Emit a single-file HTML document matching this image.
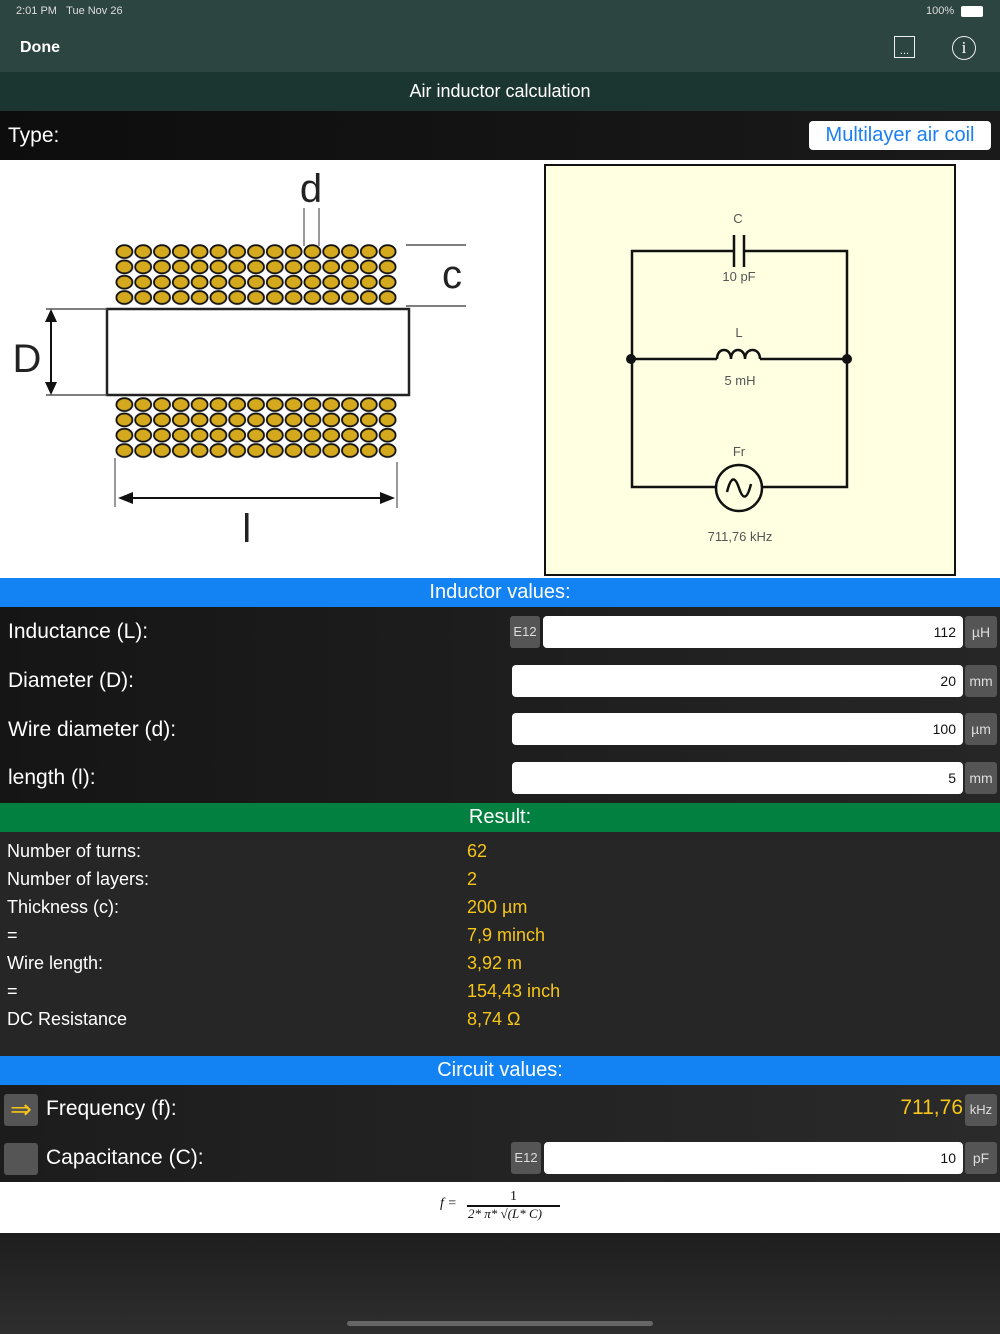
<!DOCTYPE html>
<html><head><meta charset="utf-8"><style>
*{margin:0;padding:0;box-sizing:border-box}
body{width:1000px;height:1334px;background:#262626;font-family:"Liberation Sans",sans-serif;position:relative;overflow:hidden;color:#fff}
.a{position:absolute}
.hdr{position:absolute;left:0;width:1000px;height:29px;text-align:center;font-size:20px;line-height:29px;color:#fff}
.lbl{position:absolute;left:8px;font-size:21px;color:#fff}
.fld{position:absolute;background:#fff;border-radius:4px;height:32px;color:#111;font-size:14px;text-align:right;padding-right:7px;line-height:32px}
.btn{position:absolute;background:#555;border-radius:3px;color:#ddd;font-size:13px;text-align:center;line-height:32px;height:32px}
.r{position:absolute;left:7px;font-size:18px;color:#fff}
.v{position:absolute;left:467px;font-size:18px;color:#f5c518}
</style></head><body>
<div class="a" style="left:0;top:0;width:1000px;height:72px;background:#2d4541"></div>
<div class="a" style="left:16px;top:5px;font-size:11px;color:#ddd">2:01 PM&nbsp;&nbsp;&nbsp;Tue Nov 26</div>
<div class="a" style="left:926px;top:5px;font-size:11px;color:#ddd">100%</div>
<div class="a" style="left:961px;top:6px;width:22px;height:11px;border-radius:2px;background:#fff"></div>
<div class="a" style="left:20px;top:39px;font-size:16px;font-weight:bold;color:#fff">Done</div>
<div class="a" style="left:894px;top:36px;width:21px;height:22px;border:1.5px solid #eee;font-size:11px;text-align:center;line-height:28px;color:#fff">...</div>
<div class="a" style="left:952px;top:36px;width:24px;height:24px;border:1.5px solid #eee;border-radius:50%;font-family:'Liberation Serif',serif;font-size:17px;text-align:center;line-height:21px;color:#fff">i</div>
<div class="a" style="left:0;top:72px;width:1000px;height:39px;background:#1b3631;text-align:center;font-size:18px;line-height:39px;color:#fff">Air inductor calculation</div>
<div class="a" style="left:0;top:111px;width:1000px;height:49px;background:linear-gradient(90deg,#0d0d0d,#1a1a1a)"></div>
<div class="a" style="left:8px;top:124px;font-size:21px">Type:</div>
<div class="a" style="left:809px;top:121px;width:182px;height:29px;background:#fff;border-radius:4px;color:#1a7ff5;font-size:20px;text-align:center;line-height:29px">Multilayer air coil</div>
<svg class="a" style="left:0;top:160px" width="1000" height="418" viewBox="0 160 1000 418">
<defs><pattern id="w" x="115" y="244" width="18.8" height="15.3" patternUnits="userSpaceOnUse"><ellipse cx="9.4" cy="7.6" rx="8" ry="6.4" fill="#d4a91e" stroke="#111" stroke-width="1.8"/></pattern></defs>
<rect x="0" y="160" width="1000" height="418" fill="#fff"/>
<rect x="115" y="244" width="282" height="61.2" fill="url(#w)"/>
<rect x="115" y="397" width="282" height="61.2" fill="url(#w)" transform="translate(0,0)"/>
<rect x="107" y="309" width="302" height="86" fill="#fff" stroke="#222" stroke-width="2.5"/>
<text x="311" y="202" font-size="40" fill="#222" text-anchor="middle" font-family="Liberation Sans">d</text>
<line x1="304" y1="208" x2="304" y2="246" stroke="#777" stroke-width="1.5"/><line x1="319" y1="208" x2="319" y2="246" stroke="#777" stroke-width="1.5"/>
<line x1="406" y1="245" x2="466" y2="245" stroke="#555" stroke-width="1.5"/><line x1="406" y1="306" x2="466" y2="306" stroke="#555" stroke-width="1.5"/>
<text x="452" y="288" font-size="40" fill="#222" text-anchor="middle" font-family="Liberation Sans">c</text>
<line x1="46" y1="309" x2="107" y2="309" stroke="#555" stroke-width="1.5"/><line x1="46" y1="395" x2="107" y2="395" stroke="#555" stroke-width="1.5"/>
<line x1="51" y1="318" x2="51" y2="386" stroke="#111" stroke-width="2"/>
<polygon points="51,309 45,322 57,322" fill="#111"/><polygon points="51,395 45,382 57,382" fill="#111"/>
<text x="27" y="372" font-size="40" fill="#222" text-anchor="middle" font-family="Liberation Sans">D</text>
<line x1="115" y1="458" x2="115" y2="507" stroke="#777" stroke-width="1.5"/><line x1="397" y1="462" x2="397" y2="508" stroke="#777" stroke-width="1.5"/>
<line x1="130" y1="498" x2="382" y2="498" stroke="#111" stroke-width="2"/>
<polygon points="118,498 133,492 133,504" fill="#111"/><polygon points="395,498 380,492 380,504" fill="#111"/>
<rect x="245" y="513" width="3.5" height="29" fill="#222"/>
<rect x="545" y="165" width="410" height="410" fill="#ffffe2" stroke="#111" stroke-width="2"/>
<g stroke="#111" stroke-width="2.5" fill="none">
<path d="M734 251H632V487H716M762 487H847V251H744"/>
<line x1="734" y1="235" x2="734" y2="267"/><line x1="744" y1="235" x2="744" y2="267"/>
<path d="M632 359H717M760 359H847"/>
<path d="M717 359c0-12 14-12 14 0c0-12 14-12 14 0c0-12 15-12 15 0"/>
<circle cx="739" cy="488" r="23"/>
<path d="M727 492c4-16 8-16 12-4s8 12 12-4"/>
</g>
<circle cx="631" cy="359" r="5" fill="#111"/><circle cx="847" cy="359" r="5" fill="#111"/>
<g font-family="Liberation Sans" font-size="13" fill="#555" text-anchor="middle">
<text x="738" y="223">C</text><text x="739" y="281">10 pF</text>
<text x="739" y="337">L</text><text x="740" y="385">5 mH</text>
<text x="739" y="456">Fr</text><text x="740" y="541">711,76 kHz</text></g>
</svg>
<div class="hdr" style="top:578px;background:#1383f4">Inductor values:</div>
<div class="a" style="left:0;top:607px;width:1000px;height:196px;background:linear-gradient(90deg,#151515,#262626)"></div>
<div class="lbl" style="top:620px">Inductance (L):</div>
<div class="lbl" style="top:669px">Diameter (D):</div>
<div class="lbl" style="top:718px">Wire diameter (d):</div>
<div class="lbl" style="top:766px">length (l):</div>
<div class="btn" style="left:510px;top:616px;width:30px">E12</div>
<div class="fld" style="left:543px;top:616px;width:420px">112</div>
<div class="fld" style="left:512px;top:665px;width:451px">20</div>
<div class="fld" style="left:512px;top:713px;width:451px">100</div>
<div class="fld" style="left:512px;top:762px;width:451px">5</div>
<div class="btn" style="left:965px;top:616px;width:32px;font-size:14px">µH</div>
<div class="btn" style="left:965px;top:665px;width:32px;font-size:14px">mm</div>
<div class="btn" style="left:965px;top:713px;width:32px;font-size:14px">µm</div>
<div class="btn" style="left:965px;top:762px;width:32px;font-size:14px">mm</div>
<div class="hdr" style="top:803px;background:#02803f">Result:</div>
<div class="r" style="top:841px">Number of turns:</div><div class="v" style="top:841px">62</div>
<div class="r" style="top:869px">Number of layers:</div><div class="v" style="top:869px">2</div>
<div class="r" style="top:897px">Thickness (c):</div><div class="v" style="top:897px">200 µm</div>
<div class="r" style="top:925px">=</div><div class="v" style="top:925px">7,9 minch</div>
<div class="r" style="top:953px">Wire length:</div><div class="v" style="top:953px">3,92 m</div>
<div class="r" style="top:981px">=</div><div class="v" style="top:981px">154,43 inch</div>
<div class="r" style="top:1009px">DC Resistance</div><div class="v" style="top:1009px">8,74 Ω</div>
<div class="hdr" style="top:1056px;background:#1383f4">Circuit values:</div>
<div class="a" style="left:0;top:1085px;width:1000px;height:97px;background:linear-gradient(90deg,#1c1c1c,#2a2a2a)"></div>
<div class="btn" style="left:4px;top:1094px;width:34px;color:#f5c518;font-size:26px;line-height:30px">⇒</div>
<div class="btn" style="left:4px;top:1143px;width:34px"></div>
<div class="lbl" style="left:46px;top:1097px">Frequency (f):</div>
<div class="lbl" style="left:46px;top:1146px">Capacitance (C):</div>
<div class="a" style="left:880px;top:1096px;font-size:21px;color:#f5c518;width:83px;text-align:right">711,76</div>
<div class="btn" style="left:965px;top:1094px;width:32px;font-size:13px">kHz</div>
<div class="btn" style="left:511px;top:1142px;width:30px">E12</div>
<div class="fld" style="left:544px;top:1142px;width:419px">10</div>
<div class="btn" style="left:965px;top:1142px;width:32px;font-size:14px">pF</div>
<div class="a" style="left:0;top:1182px;width:1000px;height:51px;background:#fff"></div>
<div class="a" style="left:440px;top:1196px;font-family:'Liberation Serif',serif;font-style:italic;font-size:14px;color:#111">f =</div>
<div class="a" style="left:510px;top:1189px;font-family:'Liberation Serif',serif;font-size:14px;color:#111">1</div>
<div class="a" style="left:467px;top:1205px;width:93px;height:1.5px;background:#111"></div>
<div class="a" style="left:468px;top:1206px;font-family:'Liberation Serif',serif;font-style:italic;font-size:13px;color:#111">2* π* √(L* C)</div>
<div class="a" style="left:0;top:1233px;width:1000px;height:101px;background:linear-gradient(180deg,#1e1e1e,#2e2e2e)"></div>
<div class="a" style="left:347px;top:1321px;width:306px;height:5px;border-radius:3px;background:#666"></div>
</body></html>
